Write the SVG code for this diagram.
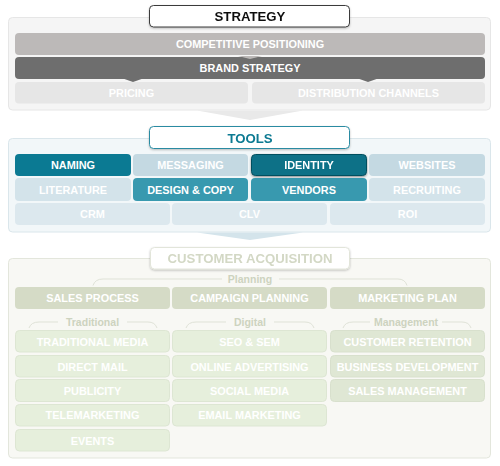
<svg xmlns="http://www.w3.org/2000/svg" width="500" height="466" viewBox="0 0 500 466">
<defs>
<filter id="sh" x="-10%" y="-30%" width="120%" height="170%">
<feDropShadow dx="0" dy="1" stdDeviation="1" flood-color="#000" flood-opacity="0.25"/>
</filter>
<filter id="glow" x="-10%" y="-30%" width="120%" height="170%">
<feDropShadow dx="0" dy="1" stdDeviation="1.2" flood-color="#000" flood-opacity="0.45"/>
</filter>
</defs>
<style>
text{font-family:"Liberation Sans",Arial,Helvetica,sans-serif;font-weight:bold;text-anchor:middle}
.b{font-size:10.9px;fill:#fff}
.t{font-size:13.2px}
.s{font-size:10.5px;fill:#cdd3bf}
.br{fill:none;stroke:#dfe2d7;stroke-width:1}
</style>
<rect width="500" height="466" fill="#fff"/>

<!-- STRATEGY -->
<g id="strategy-panel">
<rect x="8.5" y="17.5" width="482" height="92.5" rx="4" fill="#f5f5f5" stroke="#e6e6e6"/>
<polygon points="197,110.5 303,110.5 250,120" fill="#e9e9e9"/>
</g>
<g id="strategy-title" filter="url(#sh)">
<rect x="149.5" y="5.5" width="200" height="21.5" rx="4" fill="#fff" stroke="#3a3a3a"/>
<text class="t" x="250" y="21.3" fill="#111">STRATEGY</text>
</g>
<g id="competitive-positioning">
<rect x="15" y="33" width="470" height="22" rx="4" fill="#bcb9b8"/>
<text class="b" x="250" y="48" fill="#f6f6f6">COMPETITIVE POSITIONING</text>
</g>
<g id="brand-strategy">
<rect x="15" y="57" width="470" height="22" rx="4" fill="#6e6e6e"/>
<polygon points="238,56 262,56 250,59" fill="#bcb9b8"/>
<text class="b" x="250" y="72">BRAND STRATEGY</text>
</g>
<g id="pricing">
<rect x="15" y="82" width="233" height="21.5" rx="4" fill="#e6e6e6"/>
<polygon points="123,78.5 143,78.5 133,82" fill="#6e6e6e"/>
<text class="b" x="131.5" y="97" fill="#f7f7f7">PRICING</text>
</g>
<g id="distribution-channels">
<rect x="252" y="82" width="233" height="21.5" rx="4" fill="#e6e6e6"/>
<polygon points="358,78.5 378,78.5 368,82" fill="#6e6e6e"/>
<text class="b" x="368.5" y="97" fill="#f7f7f7">DISTRIBUTION CHANNELS</text>
</g>

<!-- TOOLS -->
<g id="tools-panel">
<rect x="8.5" y="138.5" width="482" height="93.5" rx="4" fill="#f2f7f9" stroke="#dae6eb"/>
<polygon points="197,232.5 303,232.5 250,240" fill="#d4e4eb"/>
</g>
<g id="tools-title" filter="url(#sh)">
<rect x="149.5" y="126.5" width="200" height="22" rx="4" fill="#fff" stroke="#2a8ba2"/>
<text class="t" x="250" y="142.5" fill="#0c7a92">TOOLS</text>
</g>
<g id="naming"><rect x="15" y="154" width="116" height="22" rx="4" fill="#0b7a93"/><text class="b" x="73" y="169">NAMING</text></g>
<g id="messaging"><rect x="133" y="154" width="115" height="22" rx="4" fill="#c4d9e2"/><text class="b" x="190.5" y="169">MESSAGING</text></g>
<g id="identity" filter="url(#glow)"><rect x="251.5" y="154.5" width="115" height="21" rx="4" fill="#0a7187" stroke="#064f5f"/><text class="b" x="309" y="169">IDENTITY</text></g>
<g id="websites"><rect x="369" y="154" width="116" height="22" rx="4" fill="#c4d9e2"/><text class="b" x="427" y="169">WEBSITES</text></g>
<g id="literature"><rect x="15" y="178" width="116" height="23" rx="4" fill="#d3e3ea"/><text class="b" x="73" y="193.5">LITERATURE</text></g>
<g id="design-copy"><rect x="133" y="178" width="115" height="23" rx="4" fill="#3899af"/><text class="b" x="190.5" y="193.5">DESIGN &amp; COPY</text></g>
<g id="vendors"><rect x="251" y="178" width="116" height="23" rx="4" fill="#3899af"/><text class="b" x="309" y="193.5">VENDORS</text></g>
<g id="recruiting"><rect x="369" y="178" width="116" height="23" rx="4" fill="#d3e3ea"/><text class="b" x="427" y="193.5">RECRUITING</text></g>
<g id="crm"><rect x="15" y="203" width="155" height="22" rx="4" fill="#dce8ee"/><text class="b" x="92.5" y="218">CRM</text></g>
<g id="clv"><rect x="172" y="203" width="155" height="22" rx="4" fill="#dce8ee"/><text class="b" x="249.5" y="218">CLV</text></g>
<g id="roi"><rect x="330" y="203" width="155" height="22" rx="4" fill="#dce8ee"/><text class="b" x="407.5" y="218">ROI</text></g>

<!-- CUSTOMER ACQUISITION -->
<g id="acq-panel">
<rect x="8.5" y="258.5" width="482" height="199.5" rx="4" fill="#f8f8f4" stroke="#e3e6dc"/>
</g>
<g id="acq-title" filter="url(#sh)">
<rect x="150.5" y="247.5" width="199" height="21.5" rx="4" fill="#fff" stroke="#e2e5da"/>
<text class="t" x="250" y="263.3" fill="#d3d8c5">CUSTOMER ACQUISITION</text>
</g>
<g id="connectors">
<path class="br" d="M93,285.5 Q95,279 103,279 L222,279"/>
<path class="br" d="M279,279 L398,279 Q405,279 407,285.5"/>
<path class="br" d="M29,328 Q31,322 39,322 L58,322"/>
<path class="br" d="M127,322 L148,322 Q155,322 157,328"/>
<path class="br" d="M186,328 Q188,322 196,322 L226,322"/>
<path class="br" d="M274,322 L305,322 Q312,322 314,328"/>
<path class="br" d="M343,328 Q345,322 353,322 L370,322"/>
<path class="br" d="M442,322 L462,322 Q469,322 471,328"/>
</g>
<g id="label-planning"><text class="s" x="250" y="282.7">Planning</text></g>
<g id="label-traditional"><text class="s" x="92.5" y="325.5">Traditional</text></g>
<g id="label-digital"><text class="s" x="250" y="325.5">Digital</text></g>
<g id="label-management"><text class="s" x="406" y="325.5">Management</text></g>

<g id="sales-process"><rect x="15" y="287" width="155" height="22" rx="4" fill="#d5dbc6"/><text class="b" x="92.5" y="302">SALES PROCESS</text></g>
<g id="campaign-planning"><rect x="172" y="287" width="155" height="22" rx="4" fill="#d5dbc6"/><text class="b" x="249.5" y="302">CAMPAIGN PLANNING</text></g>
<g id="marketing-plan"><rect x="330" y="287" width="155" height="22" rx="4" fill="#d5dbc6"/><text class="b" x="407.5" y="302">MARKETING PLAN</text></g>

<g id="traditional-media"><rect x="15.5" y="330.5" width="154" height="21.5" rx="4" fill="#e6efdc" stroke="#dde6d3"/><text class="b" x="92.5" y="345.5">TRADITIONAL MEDIA</text></g>
<g id="direct-mail"><rect x="15.5" y="355.5" width="154" height="21.5" rx="4" fill="#e6efdc" stroke="#dde6d3"/><text class="b" x="92.5" y="370.5">DIRECT MAIL</text></g>
<g id="publicity"><rect x="15.5" y="379.5" width="154" height="22" rx="4" fill="#e6efdc" stroke="#dde6d3"/><text class="b" x="92.5" y="394.5">PUBLICITY</text></g>
<g id="telemarketing"><rect x="15.5" y="404.5" width="154" height="21.5" rx="4" fill="#e6efdc" stroke="#dde6d3"/><text class="b" x="92.5" y="419">TELEMARKETING</text></g>
<g id="events"><rect x="15.5" y="429.5" width="154" height="21.5" rx="4" fill="#e6efdc" stroke="#dde6d3"/><text class="b" x="92.5" y="444.5">EVENTS</text></g>

<g id="seo-sem"><rect x="172.5" y="330.5" width="154" height="21.5" rx="4" fill="#e6efdc" stroke="#dde6d3"/><text class="b" x="249.5" y="345.5">SEO &amp; SEM</text></g>
<g id="online-advertising"><rect x="172.5" y="355.5" width="154" height="21.5" rx="4" fill="#e6efdc" stroke="#dde6d3"/><text class="b" x="249.5" y="370.5">ONLINE ADVERTISING</text></g>
<g id="social-media"><rect x="172.5" y="379.5" width="154" height="22" rx="4" fill="#e6efdc" stroke="#dde6d3"/><text class="b" x="249.5" y="394.5">SOCIAL MEDIA</text></g>
<g id="email-marketing"><rect x="172.5" y="404.5" width="154" height="21.5" rx="4" fill="#e6efdc" stroke="#dde6d3"/><text class="b" x="249.5" y="419">EMAIL MARKETING</text></g>

<g id="customer-retention"><rect x="330.5" y="330.5" width="154" height="21.5" rx="4" fill="#dfe7d4" stroke="#d8e0cd"/><text class="b" x="407.5" y="345.5">CUSTOMER RETENTION</text></g>
<g id="business-development"><rect x="330.5" y="355.5" width="154" height="21.5" rx="4" fill="#dfe7d4" stroke="#d8e0cd"/><text class="b" x="407.5" y="370.5">BUSINESS DEVELOPMENT</text></g>
<g id="sales-management"><rect x="330.5" y="379.5" width="154" height="22" rx="4" fill="#dfe7d4" stroke="#d8e0cd"/><text class="b" x="407.5" y="394.5">SALES MANAGEMENT</text></g>
</svg>
